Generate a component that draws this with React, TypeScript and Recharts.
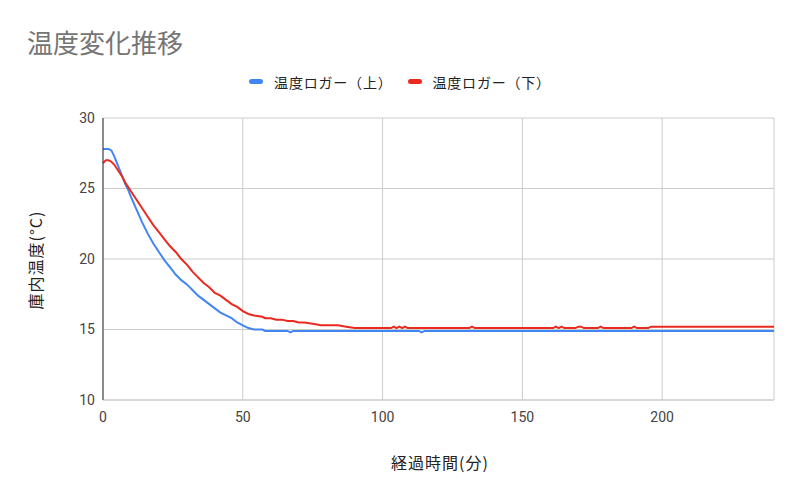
import React from 'react';
import { LineChart, Line, XAxis, YAxis, CartesianGrid, Legend } from 'recharts';

// elapsed minutes
const minutes = [
  0, 1, 2, 3, 4, 5, 6, 7, 8, 9,
  10, 12, 14, 16, 18, 20, 22, 24, 26, 28,
  30, 32, 34, 36, 38, 40, 42, 44, 46, 48,
  50, 52, 54, 57, 58, 60, 62, 64, 66, 67,
  68, 70, 72, 75, 78, 84, 87, 90, 100, 103,
  104, 105, 106, 107, 108, 109, 113, 114, 115, 131,
  132, 133, 161, 162, 163, 164, 165, 169, 170, 171,
  172, 177, 178, 179, 189, 190, 191, 195, 196, 240,
];

// 温度ロガー（上）
const upperTemps = [
  27.8, 27.8, 27.8, 27.7, 27.3, 26.8, 26.3, 25.8, 25.3, 24.9,
  24.4, 23.5, 22.6, 21.8, 21.1, 20.5, 19.9, 19.4, 18.9, 18.5,
  18.2, 17.8, 17.4, 17.1, 16.8, 16.5, 16.2, 16.0, 15.8, 15.5,
  15.3, 15.1, 15.0, 15.0, 14.9, 14.9, 14.9, 14.9, 14.9, 14.8,
  14.9, 14.9, 14.9, 14.9, 14.9, 14.9, 14.9, 14.9, 14.9, 14.9,
  14.9, 14.9, 14.9, 14.9, 14.9, 14.9, 14.9, 14.8, 14.9, 14.9,
  14.9, 14.9, 14.9, 14.9, 14.9, 14.9, 14.9, 14.9, 14.9, 14.9,
  14.9, 14.9, 14.9, 14.9, 14.9, 14.9, 14.9, 14.9, 14.9, 14.9,
];

// 温度ロガー（下）
const lowerTemps = [
  26.8, 27.0, 27.0, 26.9, 26.7, 26.4, 26.1, 25.8, 25.4, 25.1,
  24.8, 24.2, 23.6, 23.0, 22.4, 21.9, 21.4, 20.9, 20.5, 20.0,
  19.6, 19.1, 18.7, 18.3, 18.0, 17.6, 17.4, 17.1, 16.8, 16.6,
  16.3, 16.1, 16.0, 15.9, 15.8, 15.8, 15.7, 15.7, 15.6, 15.6,
  15.6, 15.5, 15.5, 15.4, 15.3, 15.3, 15.2, 15.1, 15.1, 15.1,
  15.2, 15.1, 15.2, 15.1, 15.2, 15.1, 15.1, 15.1, 15.1, 15.1,
  15.2, 15.1, 15.1, 15.2, 15.1, 15.2, 15.1, 15.1, 15.2, 15.2,
  15.1, 15.1, 15.2, 15.1, 15.1, 15.2, 15.1, 15.1, 15.2, 15.2,
];

const xTicks = [0, 50, 100, 150, 200];
const yTicks = [10, 15, 20, 25, 30];

const data = minutes.map((t, i) => ({ t, upper: upperTemps[i], lower: lowerTemps[i] }));

const FONT = 'Roboto, "Noto Sans CJK JP", sans-serif';
const JP = '"Noto Sans CJK JP", Roboto, sans-serif';

const LegendContent = ({ payload }: any) => (
  <div style={{ display: 'flex', justifyContent: 'center', alignItems: 'center', fontFamily: JP, fontSize: 14, letterSpacing: 0.8, color: '#222', height: 19 }}>
    {(payload || []).map((p: any, i: number) => (
      <div key={i} style={{ display: 'flex', alignItems: 'center', marginLeft: i ? 15 : 0 }}>
        <div style={{ width: 14, height: 5, borderRadius: 3, background: p.color, marginRight: 11 }} />
        <span>{p.value}</span>
      </div>
    ))}
  </div>
);

const App: React.FC = () => {
  return (
    <div style={{ position: 'fixed', left: 0, top: 0, width: 800, height: 495, background: '#fff' }}>
      <div style={{ position: 'absolute', left: 27, top: 26, fontFamily: JP, fontSize: 26, color: '#757575', lineHeight: '32px' }}>
        温度変化推移
      </div>
      <LineChart width={800} height={495} data={data} margin={{ top: 99, right: 26, left: 43, bottom: 65 }}>
        <CartesianGrid stroke="#cccccc" strokeWidth={1} />
        <XAxis
          dataKey="t"
          type="number"
          domain={[0, 240]}
          ticks={xTicks}
          axisLine={{ stroke: '#cccccc' }}
          tickLine={false}
          tickMargin={6}
          tick={{ fill: '#444', fontSize: 14, fontFamily: FONT }}
        />
        <YAxis
          type="number"
          domain={[10, 30]}
          ticks={yTicks}
          width={60}
          axisLine={{ stroke: '#333333' }}
          tickLine={false}
          tick={{ fill: '#444', fontSize: 14, fontFamily: FONT }}
        />
        <Legend
          verticalAlign="top"
          height={19}
          content={<LegendContent />}
          wrapperStyle={{ top: 72, left: 0, width: 800 }}
        />
        <Line type="linear" dataKey="upper" name="温度ロガー（上）" stroke="#4285F4" strokeWidth={2} dot={false} isAnimationActive={false} />
        <Line type="linear" dataKey="lower" name="温度ロガー（下）" stroke="#EA2A1E" strokeWidth={2} dot={false} isAnimationActive={false} />
      </LineChart>
      <div style={{ position: 'absolute', left: 35, top: 260, transform: 'translate(-50%, -50%) rotate(-90deg)', fontFamily: JP, fontSize: 16, letterSpacing: 1, color: '#222', whiteSpace: 'nowrap' }}>
        庫内温度(°C)
      </div>
      <div style={{ position: 'absolute', left: 440, top: 462, transform: 'translate(-50%, -50%)', fontFamily: JP, fontSize: 16, letterSpacing: 1, color: '#222', whiteSpace: 'nowrap' }}>
        経過時間(分)
      </div>
    </div>
  );
};

export default App;
